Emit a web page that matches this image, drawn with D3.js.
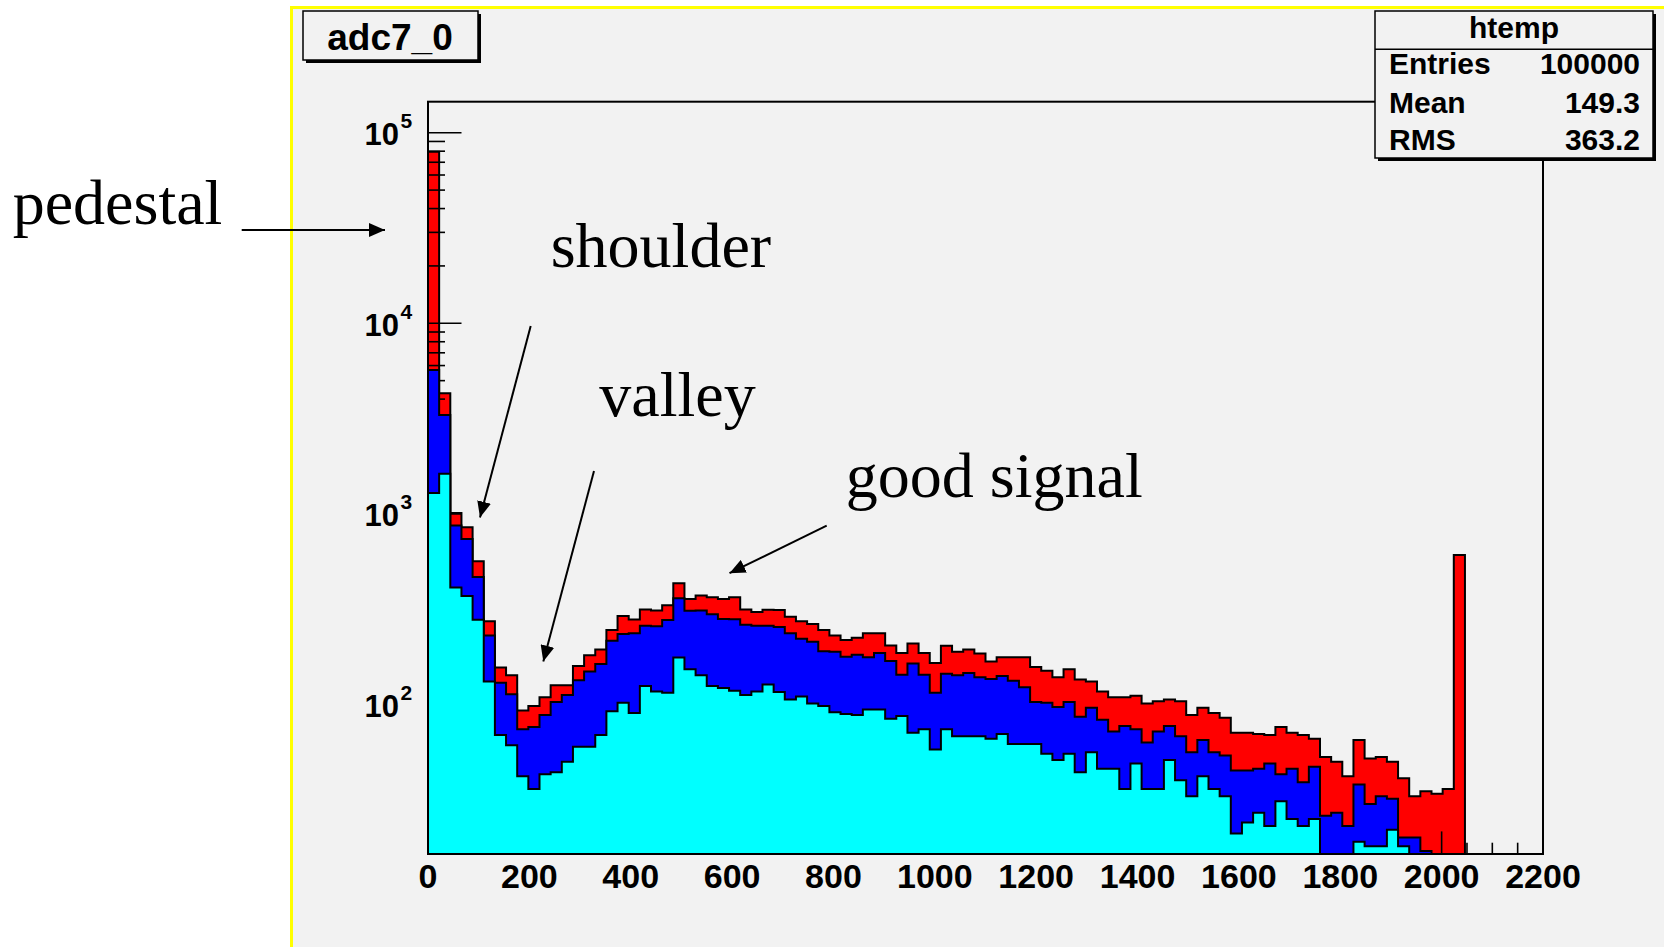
<!DOCTYPE html>
<html>
<head>
<meta charset="utf-8">
<script src="https://cdn.jsdelivr.net/npm/d3@7"></script>
<style>
  html, body { margin: 0; padding: 0; background: #ffffff; }
  svg { display: block; }
</style>
</head>
<body>
<svg id="chart" width="1664" height="947"></svg>
<script>
// ---------------- DATA ----------------
const binWidth = 22;            // ADC counts per bin
const xDomain = [0, 2200];
const yDomain = [16.4, 145500];
const xTickLabels = [0, 200, 400, 600, 800, 1000, 1200, 1400, 1600, 1800, 2000, 2200];
const yMajorTicks = [100, 1000, 10000, 100000];

// bin contents (bin i covers [22*i, 22*(i+1)) ), trailing empty bins omitted
const redCounts = [79400, 4300, 1010, 851, 564, 273, 156, 142, 93, 98,
  109, 126, 126, 159, 181, 194, 246, 291, 279, 315,
  311, 331, 432, 357, 373, 365, 357, 365, 315, 305,
  314, 313, 288, 273, 264, 246, 230, 218, 224, 236,
  236, 204, 186, 209, 186, 165, 203, 189, 194, 185,
  168, 177, 177, 177, 157, 150, 139, 153, 135, 132,
  117, 109, 109, 111, 101, 104, 106, 104, 88, 96,
  90, 85, 71, 71, 70, 69, 76, 71, 69, 66,
  53, 50, 42, 65, 52, 53, 50, 41, 33, 35,
  34, 36, 608];
const blueCounts = [5690, 3300, 869, 738, 466, 230, 130, 113, 74, 76,
  88, 103, 112, 134, 149, 163, 216, 234, 236, 259,
  257, 277, 361, 310, 311, 297, 281, 280, 262, 259,
  259, 255, 236, 221, 213, 190, 189, 178, 182, 177,
  186, 169, 143, 164, 143, 115, 145, 142, 146, 139,
  136, 141, 133, 123, 103, 102, 97, 103, 86, 96,
  83, 72, 77, 74, 63, 72, 77, 68, 56, 65,
  56, 54, 45, 45, 46, 49, 43, 46, 39, 47,
  26, 27, 23, 38, 30, 33, 32, 20, 20, 17];
const cyanCounts = [1285, 1622, 411, 371, 278, 132, 69, 61, 42, 36,
  43, 44, 50, 60, 60, 69, 92, 102, 90, 125,
  117, 115, 176, 153, 142, 125, 122, 118, 112, 117,
  127, 116, 106, 110, 101, 98, 91, 89, 88, 94,
  94, 84, 87, 71, 74, 58, 74, 68, 68, 68,
  66, 70, 62, 62, 62, 55, 51, 55, 44, 56,
  46, 46, 36, 49, 36, 36, 51, 40, 33, 42,
  36, 33, 21, 24, 27, 23, 31, 25, 23, 25,
  0, 0, 0, 19, 18, 18, 22, 18];

const seriesColors = ["#ff0000", "#0000ff", "#00ffff"];
const titleText = "adc7_0";
const statsName = "htemp";
const statsLabels = ["Entries", "Mean", "RMS"];
const statsValues = ["100000", "149.3", "363.2"];
const annotationTexts = ["pedestal", "shoulder", "valley", "good signal"];

// ---------------- DRAWING ----------------
const W = 1664, H = 947;
const svg = d3.select("#chart");
const SANS = "'Liberation Sans', Arial, Helvetica, sans-serif";
const SERIF = "'Liberation Serif', 'Times New Roman', Times, serif";

svg.append("rect").attr("width", W).attr("height", H).attr("fill", "#ffffff");
// canvas (pad) with yellow border
svg.append("rect")
  .attr("x", 291.5).attr("y", 7.5).attr("width", W).attr("height", H)
  .attr("fill", "#f2f2f2").attr("stroke", "#ffff00").attr("stroke-width", 3);

const plotL = 428, plotR = 1543, plotT = 101.7, plotB = 854;
const x = d3.scaleLinear().domain(xDomain).range([plotL, plotR]);
const y = d3.scaleLog().domain(yDomain).range([plotB, plotT]).clamp(true);
const yv = v => (v > 0 ? y(v) : plotB);

function histPath(counts) {
  let n = counts.length;
  while (n > 0 && counts[n - 1] <= 0) n--;
  const pts = [[0, 0]];
  for (let i = 0; i < n; i++) pts.push([i * binWidth, counts[i]]);
  pts.push([n * binWidth, counts[n - 1]]);
  pts.push([n * binWidth, 0]);
  const line = d3.line()
    .x(d => x(d[0]))
    .y(d => yv(d[1]))
    .curve(d3.curveStepAfter);
  return line(pts) + "Z";
}

function drawHist(counts, color) {
  svg.append("path")
    .attr("d", histPath(counts))
    .attr("fill", color)
    .attr("stroke", "#000")
    .attr("stroke-width", 2)
    .attr("stroke-linejoin", "miter");
}

// red histogram (drawn with the axes)
drawHist(redCounts, seriesColors[0]);

// ticks (drawn after the first histogram, covered by later ones)
const tickG = svg.append("g").attr("stroke", "#000").attr("stroke-width", 1.6);
d3.range(xDomain[0], xDomain[1] + 1, 50).forEach(v => {
  const len = (v % 200 === 0) ? 22.6 : 11.3;
  tickG.append("line")
    .attr("x1", x(v)).attr("x2", x(v))
    .attr("y1", plotB).attr("y2", plotB - len);
});
yMajorTicks.forEach(v => {
  tickG.append("line")
    .attr("x1", plotL).attr("x2", plotL + 33.5)
    .attr("y1", y(v)).attr("y2", y(v));
});
for (let k = 1; k <= 5; k++) {
  for (let m = 2; m <= 9; m++) {
    const v = m * Math.pow(10, k);
    if (v <= yDomain[0] || v >= yDomain[1]) continue;
    tickG.append("line")
      .attr("x1", plotL).attr("x2", plotL + 17)
      .attr("y1", y(v)).attr("y2", y(v));
  }
}

drawHist(blueCounts, seriesColors[1]);
drawHist(cyanCounts, seriesColors[2]);

// frame
svg.append("rect")
  .attr("x", plotL).attr("y", plotT)
  .attr("width", plotR - plotL).attr("height", plotB - plotT)
  .attr("fill", "none").attr("stroke", "#000").attr("stroke-width", 2);

// x labels
svg.append("g").selectAll("text").data(xTickLabels).join("text")
  .attr("x", d => x(d)).attr("y", 888)
  .attr("text-anchor", "middle")
  .attr("font-family", SANS).attr("font-weight", "bold").attr("font-size", 34)
  .attr("fill", "#000")
  .text(d => d);

// y labels 10^k
const yl = svg.append("g").attr("font-family", SANS).attr("font-weight", "bold").attr("fill", "#000");
yMajorTicks.forEach(v => {
  const ty = y(v);
  yl.append("text").attr("x", 399).attr("y", ty + 12.5)
    .attr("text-anchor", "end").attr("font-size", 31).text("10");
  yl.append("text").attr("x", 400.5).attr("y", ty - 4.5)
    .attr("text-anchor", "start").attr("font-size", 21)
    .text(String(Math.round(Math.log10(v))));
});

// title box
svg.append("rect").attr("x", 306).attr("y", 14).attr("width", 175).attr("height", 49).attr("fill", "#000");
svg.append("rect").attr("x", 303).attr("y", 11).attr("width", 175).attr("height", 49)
  .attr("fill", "#f2f2f2").attr("stroke", "#000").attr("stroke-width", 1.5);
svg.append("text").attr("x", 390).attr("y", 50)
  .attr("text-anchor", "middle")
  .attr("font-family", SANS).attr("font-weight", "bold").attr("font-size", 37)
  .attr("fill", "#000").text(titleText);

// stats box
const sb = { x: 1375, y: 11, w: 278, h: 147 };
svg.append("rect").attr("x", sb.x + 3).attr("y", sb.y + 3).attr("width", sb.w).attr("height", sb.h).attr("fill", "#000");
svg.append("rect").attr("x", sb.x).attr("y", sb.y).attr("width", sb.w).attr("height", sb.h)
  .attr("fill", "#f2f2f2").attr("stroke", "#000").attr("stroke-width", 1.5);
svg.append("line").attr("x1", sb.x).attr("x2", sb.x + sb.w).attr("y1", 49.3).attr("y2", 49.3)
  .attr("stroke", "#000").attr("stroke-width", 1.5);
const sg = svg.append("g").attr("font-family", SANS).attr("font-weight", "bold").attr("fill", "#000");
sg.append("text").attr("x", 1514).attr("y", 38).attr("text-anchor", "middle").attr("font-size", 30).text(statsName);
const rowBase = [74, 112.5, 150];
statsLabels.forEach((lab, i) => {
  sg.append("text").attr("x", 1389).attr("y", rowBase[i]).attr("font-size", 30).text(lab);
  sg.append("text").attr("x", 1640).attr("y", rowBase[i]).attr("text-anchor", "end").attr("font-size", 30).text(statsValues[i]);
});

// annotations
const defs = svg.append("defs");
defs.append("marker").attr("id", "ah")
  .attr("viewBox", "0 0 16 14").attr("refX", 16).attr("refY", 7)
  .attr("markerWidth", 16).attr("markerHeight", 14)
  .attr("markerUnits", "userSpaceOnUse").attr("orient", "auto")
  .append("path").attr("d", "M0,0 L16,7 L0,14 Z").attr("fill", "#000");

const annPos = [
  { tx: 12.7, ty: 224, a: [241.7, 230, 385, 230] },
  { tx: 550.7, ty: 266.7, a: [530.7, 326, 480, 517.5] },
  { tx: 599.3, ty: 416, a: [594, 471, 543.3, 661.4] },
  { tx: 845.8, ty: 496.6, a: [826.7, 525.6, 729.5, 573.2] }
];
annotationTexts.forEach((t, i) => {
  const p = annPos[i];
  svg.append("text").attr("x", p.tx).attr("y", p.ty)
    .attr("font-family", SERIF).attr("font-size", 64).attr("fill", "#000").text(t);
  svg.append("line")
    .attr("x1", p.a[0]).attr("y1", p.a[1]).attr("x2", p.a[2]).attr("y2", p.a[3])
    .attr("stroke", "#000").attr("stroke-width", 2)
    .attr("marker-end", "url(#ah)");
});
</script>
</body>
</html>
